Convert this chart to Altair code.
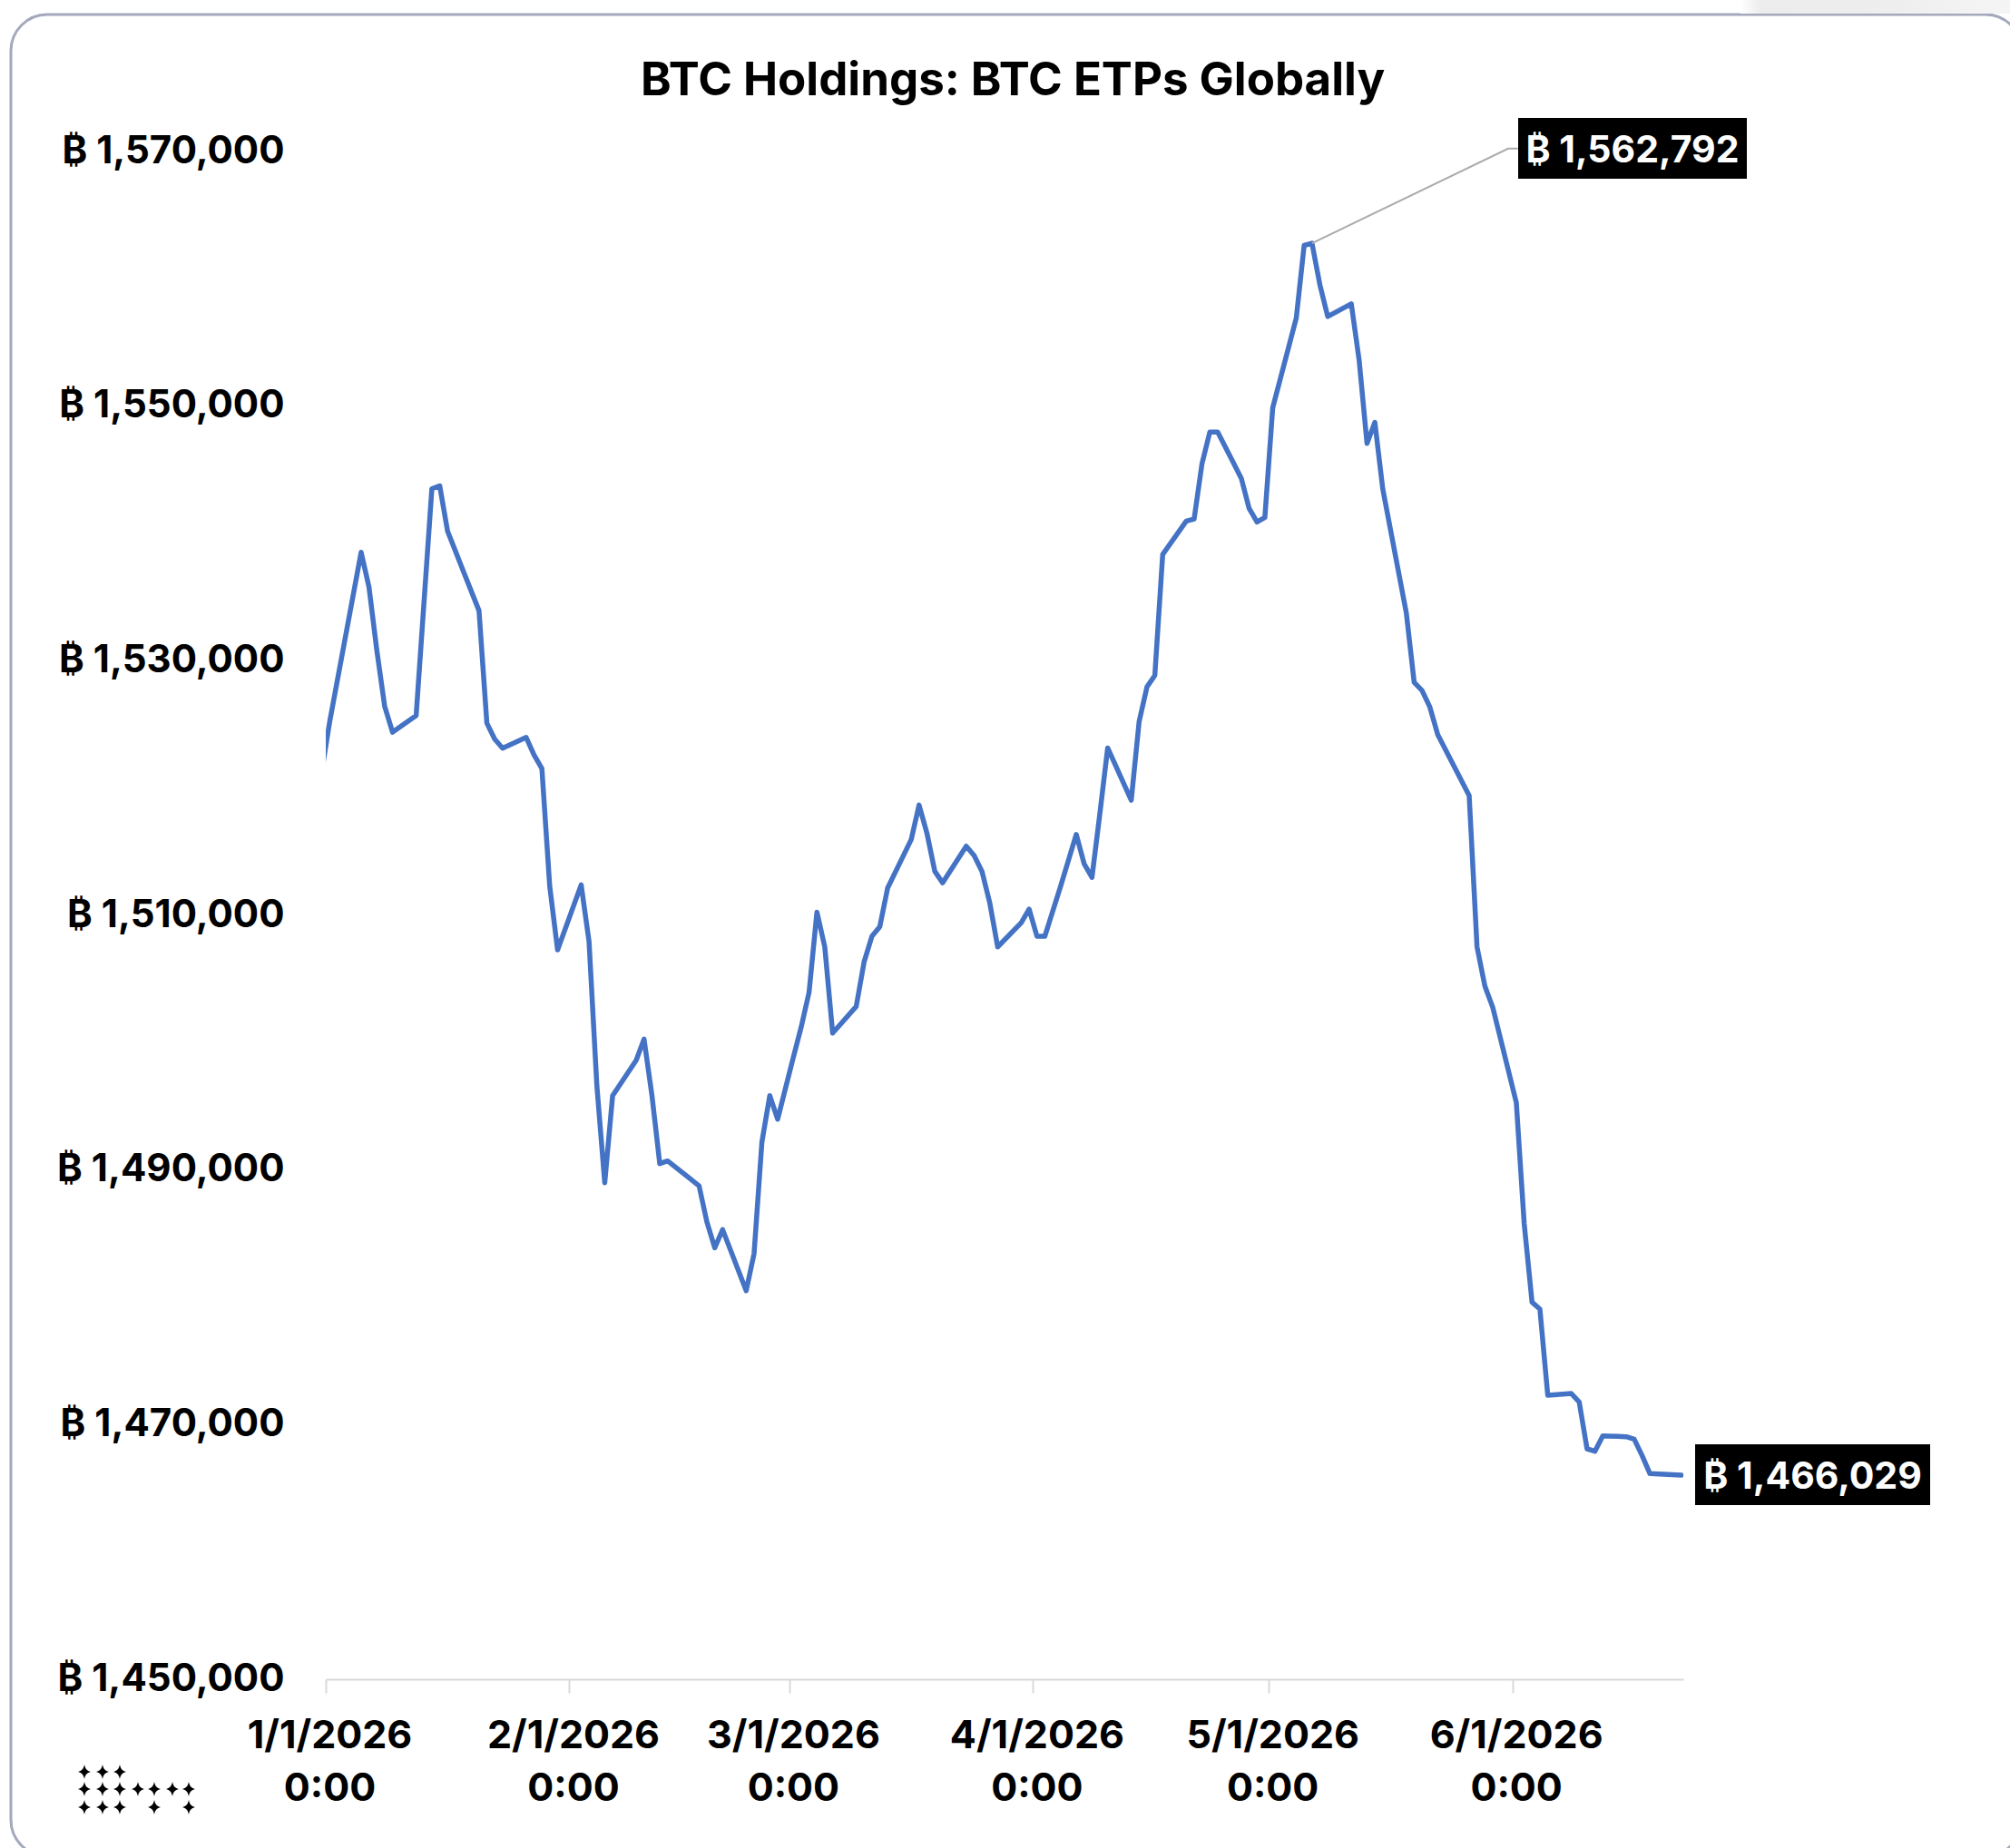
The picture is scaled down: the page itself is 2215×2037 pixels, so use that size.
import altair as alt
import pandas as pd

# Daily BTC held by ETPs worldwide, as days since 1 Jan 2026 (stamped at midday) and BTC.
days = [-0.5, 0.5, 4.5, 5.5, 6.5, 7.5, 8.5, 11.5, 13.5, 14.5, 15.5, 17.5, 19.5, 20.5, 21.5, 22.5,
        25.5, 26.5, 27.5, 28.5, 29.5, 32.5, 33.5, 34.5, 35.5, 36.5, 39.5, 40.5, 41.5, 42.5,
        43.5, 47.5, 48.5, 49.5, 50.5, 53.5, 54.5, 55.5, 56.5, 57.5, 59.5, 60.5, 61.5, 62.5,
        63.5, 64.5, 67.5, 68.5, 69.5, 70.5, 71.5, 74.5, 75.5, 76.5, 77.5, 78.5, 81.5, 82.5,
        83.5, 84.5, 85.5, 88.5, 89.5, 90.5, 91.5, 93.5, 95.5, 96.5, 97.5, 98.5, 99.5, 102.5,
        103.5, 104.5, 105.5, 106.5, 109.5, 110.5, 111.5, 112.5, 113.5, 116.5, 117.5, 118.5,
        119.5, 120.5, 123.5, 124.5, 125.5, 126.5, 127.5, 130.5, 131.5, 132.5, 133.5, 134.5,
        137.5, 138.5, 139.5, 140.5, 141.5, 145.5, 146.5, 147.5, 148.5, 151.5, 152.5, 153.5,
        154.5, 155.5, 158.5, 159.5, 160.5, 161.5, 162.5, 165.5, 166.5, 167.5, 168.5, 172.5]
holdings = [1521340, 1525218, 1538518, 1535787, 1530800, 1526406, 1524387, 1525693, 1543506, 1543743,
            1540181, 1537046, 1533935, 1525100, 1523840, 1523128, 1523983, 1522606, 1521537, 1512275,
            1507287, 1512393, 1507952, 1496600, 1488999, 1495840, 1498618, 1500281, 1495887, 1490496,
            1490710, 1488762, 1485912, 1483893, 1485318, 1480521, 1483418, 1492206, 1495840, 1493987,
            1498856, 1501231, 1503962, 1510256, 1507525, 1500756, 1502846, 1506337, 1508356, 1509116,
            1512156, 1515956, 1518664, 1516454, 1513462, 1512560, 1515433, 1514697, 1513462, 1510968,
            1507525, 1509425, 1510493, 1508356, 1508356, 1512275, 1516359, 1514056, 1512987, 1517975,
            1523152, 1519044, 1525218, 1527949, 1528852, 1538352, 1540965, 1541131, 1545477, 1547971,
            1547971, 1544337, 1541962, 1540893, 1541250, 1549871, 1556924, 1562625, 1562792, 1559537,
            1557043, 1558041, 1553599, 1547068, 1548725, 1543506, 1533768, 1528306, 1527664, 1526358,
            1524197, 1519400, 1507524, 1504437, 1502775, 1495293, 1485793, 1479618, 1479072, 1472303,
            1472446, 1471781, 1468100, 1467910, 1469121, 1469050, 1468860, 1467577, 1466152, 1466029]

# Leader from the peak up to its callout box.
leader_days = [125.5, 150.46, 151.7]
leader_values = [1562792, 1570227, 1570227]

y_ticks = [1450000, 1470000, 1490000, 1510000, 1530000, 1550000, 1570000]
month_starts = [1, 2, 3, 4, 5, 6]

TITLE = "BTC Holdings: BTC ETPs Globally"
FONT = "Inter"
CARD = "#A3A8BC"
BLUE = "#4472C4"
AXIS_GREY = "#D9D9D9"

# Canvas layout
W, H = 2215, 2037
LEFT, TOP = 359, 167
PLOT_W, PLOT_H = 1496, 1684


def to_dates(offsets):
    start = pd.Timestamp("2026-01-01")
    return [start + pd.Timedelta(days=float(d)) for d in offsets]


series = pd.DataFrame({"date": to_dates(days), "btc": holdings})
leader = pd.DataFrame({"date": to_dates(leader_days), "btc": leader_values, "i": [0, 1, 2]})
one_row = pd.DataFrame({"k": [0]})

x_enc = alt.X(
    "date:T",
    title=None,
    scale=alt.Scale(domain=[alt.DateTime(year=2026, month=1, date=1),
                            alt.DateTime(year=2026, month=6, date=22, hours=18)]),
    axis=alt.Axis(
        values=[alt.DateTime(year=2026, month=m, date=1) for m in month_starts],
        labelExpr="[timeFormat(datum.value, '%-m/%-d/%Y'), timeFormat(datum.value, '%-H:%M')]",
        labelFont=FONT, labelFontSize=43, labelFontWeight=700, labelColor="black", labelLimit=600,
        labelLineHeight=58, labelPadding=26, labelOffset=4, labelAngle=0,
        labelFlush=False, labelOverlap=False, labelBound=False,
        domainColor=AXIS_GREY, domainWidth=2, tickColor=AXIS_GREY, tickWidth=2, tickSize=15,
        grid=False,
    ),
)
y_enc = alt.Y(
    "btc:Q",
    title=None,
    scale=alt.Scale(domain=[1450000, 1570000], nice=False, zero=False),
    axis=alt.Axis(
        values=y_ticks,
        labelExpr="'₿ ' + format(datum.value, ',')",
        labelFont=FONT, labelFontSize=42, labelFontWeight=700, labelColor="black", labelLimit=600,
        labelPadding=46, labelOffset=-1, domain=False, ticks=False, grid=False,
        labelOverlap=False, labelBound=False, labelFlush=False,
    ),
)


def px_x(v):
    return alt.value(v - LEFT)


def px_y(v):
    return alt.value(v - TOP)


# Rounded card outline, running off the right and bottom of the canvas.
card = alt.Chart(one_row).mark_rect(
    filled=False, stroke=CARD, strokeWidth=3, cornerRadius=40
).encode(x=px_x(12), x2=px_x(2228), y=px_y(16), y2=px_y(2046))

# Faint shadow above the card's top-right edge.
shadow = alt.Chart(one_row).mark_rect(
    fill={
        "gradient": "linear", "x1": 0, "y1": 0, "x2": 1, "y2": 0,
        "stops": [
            {"offset": 0, "color": "#ffffff"},
            {"offset": 0.08, "color": "#ececec"},
            {"offset": 0.55, "color": "#eeeeee"},
            {"offset": 1, "color": "#f5f5f5"},
        ],
    }
).encode(x=px_x(1918), x2=px_x(2215), y=px_y(0), y2=px_y(15))

heading = alt.Chart(one_row).mark_text(
    text=TITLE, font=FONT, fontSize=51, fontWeight=700, color="black",
    align="center", baseline="alphabetic",
).encode(x=px_x(1116), y=px_y(105))

line = alt.Chart(series).mark_line(
    color=BLUE, strokeWidth=5.5, strokeJoin="round", strokeCap="round", clip=True
).encode(x=x_enc, y=y_enc, order=alt.Order("date:T"))

leader_line = alt.Chart(leader).mark_line(color="#ABABAB", strokeWidth=2).encode(
    x=alt.X("date:T"), y=alt.Y("btc:Q"), order="i:Q"
)


def callout(value, x0, x1, y0, y1):
    box = alt.Chart(one_row).mark_rect(fill="black").encode(
        x=px_x(x0), x2=px_x(x1), y=px_y(y0), y2=px_y(y1)
    )
    label = alt.Chart(one_row).mark_text(
        text=f"₿ {value:,}", font=FONT, fontSize=41, fontWeight=700, color="white",
        align="center", baseline="middle",
    ).encode(x=px_x((x0 + x1) / 2), y=px_y((y0 + y1) / 2 + 3))
    return box + label


peak_callout = callout(max(holdings), 1673, 1925, 130, 197)
last_callout = callout(holdings[-1], 1868, 2127, 1592, 1659)

# Dot-matrix wordmark built from four-pointed stars, drawn as one symbol.
logo_rows = ["XXX....", "XXXXXXX", "XXX.X.X"]
logo_cols = [0, 20, 39, 59, 77, 97, 115]
logo_lines = [0, 19, 39]


def star(cx, cy, rx=7, ry=8):
    return (
        f"M{cx},{cy - ry}"
        f"C{cx + 1},{cy - 3} {cx + 3},{cy - 1} {cx + rx},{cy}"
        f"C{cx + 3},{cy + 1} {cx + 1},{cy + 3} {cx},{cy + ry}"
        f"C{cx - 1},{cy + 3} {cx - 3},{cy + 1} {cx - rx},{cy}"
        f"C{cx - 3},{cy - 1} {cx - 1},{cy - 3} {cx},{cy - ry}Z"
    )


logo_path = "".join(
    star(logo_cols[c], logo_lines[r])
    for r, row in enumerate(logo_rows)
    for c, flag in enumerate(row)
    if flag == "X"
)
logo = alt.Chart(one_row).mark_point(
    shape=logo_path, size=4, filled=True, fill="black", opacity=1, strokeWidth=0
).encode(x=px_x(93), y=px_y(1953))

chart = (
    alt.layer(card, shadow, heading, line, leader_line, peak_callout, last_callout, logo)
    .properties(
        width=PLOT_W,
        height=PLOT_H,
        padding={"left": LEFT, "top": TOP, "right": W - LEFT - PLOT_W, "bottom": H - TOP - PLOT_H},
        autosize=alt.AutoSizeParams(type="none"),
        background="white",
    )
    .configure_view(stroke=None)
)

chart.save("out.html", embed_options={"renderer": "svg", "actions": False})
